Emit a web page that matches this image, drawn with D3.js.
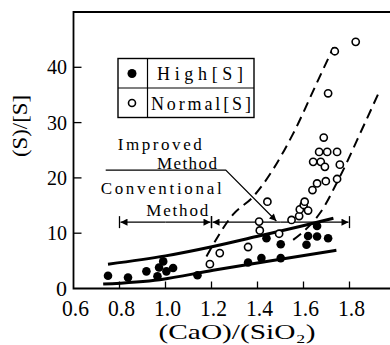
<!DOCTYPE html>
<html>
<head>
<meta charset="utf-8">
<script src="https://cdn.jsdelivr.net/npm/d3@7"></script>
<style>
  body { margin: 0; background: #fff; }
</style>
</head>
<body>
<div id="chart"></div>
<script>
// data
const highS = [
  [0.75, 2.3], [0.837, 2.0], [0.917, 3.1], [0.965, 2.2], [0.972, 3.8], [0.99, 4.9],
  [1.004, 3.1], [1.033, 3.7], [1.139, 2.4], [1.359, 4.7], [1.417, 5.5], [1.439, 9.1],
  [1.501, 8.0], [1.501, 5.5], [1.613, 7.9], [1.62, 9.5], [1.659, 9.4], [1.659, 11.3],
  [1.707, 9.1]
];
const normalS = [
  [1.193, 4.4], [1.236, 6.4], [1.359, 7.5], [1.41, 10.5], [1.407, 12.1], [1.443, 15.7],
  [1.494, 9.9], [1.548, 12.4], [1.581, 13.1], [1.584, 14.3], [1.601, 15.1], [1.62, 14.1],
  [1.605, 15.7], [1.639, 17.8], [1.659, 19.0], [1.697, 19.4], [1.746, 19.8], [1.642, 22.9],
  [1.668, 24.7], [1.703, 24.7], [1.675, 22.9], [1.693, 22.0], [1.688, 27.3], [1.746, 24.7],
  [1.758, 22.4], [1.707, 35.3], [1.736, 42.9], [1.827, 44.6]
];
const upperBand = [[0.75, 4.4], [1.0, 5.9], [1.207, 7.6], [1.396, 9.4], [1.584, 11.2], [1.73, 12.7]];
const lowerBand = [[0.729, 0.8], [0.975, 1.6], [1.207, 3.3], [1.439, 4.9], [1.743, 6.9]];
const leftDash = [[1.178, 5.8], [1.294, 13.4], [1.381, 16.6], [1.555, 28], [1.656, 37], [1.73, 43.6]];
const rightDash = [[1.555, 8.8], [1.62, 11.1], [1.671, 13.6], [1.758, 20.2], [1.859, 29.2], [1.925, 35.2]];
const xTicks = [0.6, 0.8, 1.0, 1.2, 1.4, 1.6, 1.8];
const yTicks = [0, 10, 20, 30, 40];
const rangeY = 12;
const conventional = [0.8, 1.2];
const improved = [1.2, 1.8];
const leader = [[0.74, 21.4], [1.262, 21.4], [1.482, 12.2]];

const width = 390, height = 345;
const serif = "'Liberation Serif', 'Times New Roman', Times, 'DejaVu Serif', 'Noto Serif', serif";
const x = d3.scaleLinear().domain([0.6, 2.0]).range([73.5, 395.5]);
const y = d3.scaleLinear().domain([0, 50]).range([288.5, 12]);

const svg = d3.select("#chart").append("svg")
  .attr("width", width)
  .attr("height", height)
  .attr("font-family", serif);

svg.append("defs").append("marker")
  .attr("id", "arrow")
  .attr("viewBox", "0 -5 10 10")
  .attr("refX", 10)
  .attr("refY", 0)
  .attr("markerWidth", 9)
  .attr("markerHeight", 7)
  .attr("markerUnits", "userSpaceOnUse")
  .attr("orient", "auto")
  .append("path")
  .attr("d", "M0,-5L10,0L0,5Z")
  .attr("fill", "#000");

// frame: left, top, bottom (open on the right)
svg.append("path")
  .attr("d", `M${width},${y(50)}H${x(0.6)}V${y(0)}H${width}`)
  .attr("fill", "none")
  .attr("stroke", "#000")
  .attr("stroke-width", 1.8);

// ticks point inwards
svg.append("g").selectAll("line")
  .data(xTicks.slice(1))
  .enter().append("line")
  .attr("x1", d => x(d)).attr("x2", d => x(d))
  .attr("y1", y(0)).attr("y2", y(0) - 7)
  .attr("stroke", "#000").attr("stroke-width", 1.3);

svg.append("g").selectAll("line")
  .data(yTicks.slice(1))
  .enter().append("line")
  .attr("x1", x(0.6)).attr("x2", x(0.6) + 8)
  .attr("y1", d => y(d)).attr("y2", d => y(d))
  .attr("stroke", "#000").attr("stroke-width", 1.3);

svg.append("g").selectAll("text")
  .data(xTicks)
  .enter().append("text")
  .attr("x", d => x(d) + 2)
  .attr("y", 316)
  .attr("text-anchor", "middle")
  .attr("font-size", 23)
  .attr("textLength", 27)
  .attr("lengthAdjust", "spacingAndGlyphs")
  .text(d => d.toFixed(1));

svg.append("g").selectAll("text")
  .data(yTicks)
  .enter().append("text")
  .attr("x", 67)
  .attr("y", d => y(d) + 7)
  .attr("text-anchor", "end")
  .attr("font-size", 22)
  .attr("textLength", d => d === 0 ? 11 : 20)
  .attr("lengthAdjust", "spacingAndGlyphs")
  .text(d => d);

// axis titles
svg.append("text")
  .attr("x", 237)
  .attr("y", 339)
  .attr("text-anchor", "middle")
  .attr("font-size", 21)
  .attr("textLength", 157)
  .attr("lengthAdjust", "spacingAndGlyphs")
  .text("(CaO)/(SiO₂)");

svg.append("text")
  .attr("transform", "translate(27,126) rotate(-90)")
  .attr("text-anchor", "middle")
  .attr("font-size", 21)
  .attr("textLength", 62)
  .attr("lengthAdjust", "spacingAndGlyphs")
  .text("(S)/[S]");

// fitted bands
const line = d3.line().x(d => x(d[0])).y(d => y(d[1])).curve(d3.curveMonotoneX);

svg.append("g").selectAll("path")
  .data([upperBand, lowerBand])
  .enter().append("path")
  .attr("d", line)
  .attr("fill", "none")
  .attr("stroke", "#000")
  .attr("stroke-width", 3);

svg.append("g").selectAll("path")
  .data([leftDash, rightDash])
  .enter().append("path")
  .attr("d", line)
  .attr("fill", "none")
  .attr("stroke", "#000")
  .attr("stroke-width", 2)
  .attr("stroke-dasharray", "10,6");

// range bars
const ranges = svg.append("g").attr("stroke", "#000").attr("stroke-width", 1.3);
[conventional, improved].forEach(r => {
  const mid = (x(r[0]) + x(r[1])) / 2;
  ranges.append("line")
    .attr("x1", mid).attr("x2", x(r[0]) + 1)
    .attr("y1", y(rangeY)).attr("y2", y(rangeY))
    .attr("marker-end", "url(#arrow)");
  ranges.append("line")
    .attr("x1", mid).attr("x2", x(r[1]) - 1)
    .attr("y1", y(rangeY)).attr("y2", y(rangeY))
    .attr("marker-end", "url(#arrow)");
  r.forEach(v => {
    ranges.append("line")
      .attr("x1", x(v)).attr("x2", x(v))
      .attr("y1", y(rangeY) - 6).attr("y2", y(rangeY) + 6);
  });
});

// leader for "Improved Method"
svg.append("path")
  .attr("d", d3.line().x(d => x(d[0])).y(d => y(d[1]))(leader))
  .attr("fill", "none")
  .attr("stroke", "#000")
  .attr("stroke-width", 1.2)
  .attr("marker-end", "url(#arrow)");

const notes = [
  { t: "Improved", cx: 0.975, by: 25.0, w: 84 },
  { t: "Method", cx: 1.093, by: 21.6, w: 60 },
  { t: "Conventional", cx: 0.981, by: 17.1, w: 121 },
  { t: "Method", cx: 1.051, by: 13.2, w: 62 }
];
svg.append("g").selectAll("text")
  .data(notes)
  .enter().append("text")
  .attr("x", d => x(d.cx))
  .attr("y", d => y(d.by))
  .attr("text-anchor", "middle")
  .attr("font-size", 17)
  .attr("textLength", d => d.w)
  .attr("lengthAdjust", "spacing")
  .text(d => d.t);

// points
svg.append("g").selectAll("circle")
  .data(highS)
  .enter().append("circle")
  .attr("cx", d => x(d[0]))
  .attr("cy", d => y(d[1]))
  .attr("r", 4.3)
  .attr("fill", "#000");

svg.append("g").selectAll("circle")
  .data(normalS)
  .enter().append("circle")
  .attr("cx", d => x(d[0]))
  .attr("cy", d => y(d[1]))
  .attr("r", 3.6)
  .attr("fill", "#fff")
  .attr("stroke", "#000")
  .attr("stroke-width", 1.6);

// legend
const legend = svg.append("g").attr("transform", "translate(118,58.5)");
legend.append("rect")
  .attr("width", 136).attr("height", 59)
  .attr("fill", "#fff").attr("stroke", "#000").attr("stroke-width", 1.4);
legend.append("line").attr("x1", 29.5).attr("x2", 29.5).attr("y1", 0).attr("y2", 59)
  .attr("stroke", "#000").attr("stroke-width", 1.2);
legend.append("line").attr("x1", 0).attr("x2", 136).attr("y1", 29.5).attr("y2", 29.5)
  .attr("stroke", "#000").attr("stroke-width", 1.2);
legend.append("circle").attr("cx", 14).attr("cy", 15).attr("r", 4.5).attr("fill", "#000");
legend.append("circle").attr("cx", 14).attr("cy", 44.5).attr("r", 3.5)
  .attr("fill", "#fff").attr("stroke", "#000").attr("stroke-width", 1.6);
legend.append("text").attr("x", 39).attr("y", 21).attr("font-size", 18)
  .attr("textLength", 86).attr("lengthAdjust", "spacing").text("High[S]");
legend.append("text").attr("x", 33).attr("y", 51).attr("font-size", 18)
  .attr("textLength", 100).attr("lengthAdjust", "spacing").text("Normal[S]");
</script>
</body>
</html>
